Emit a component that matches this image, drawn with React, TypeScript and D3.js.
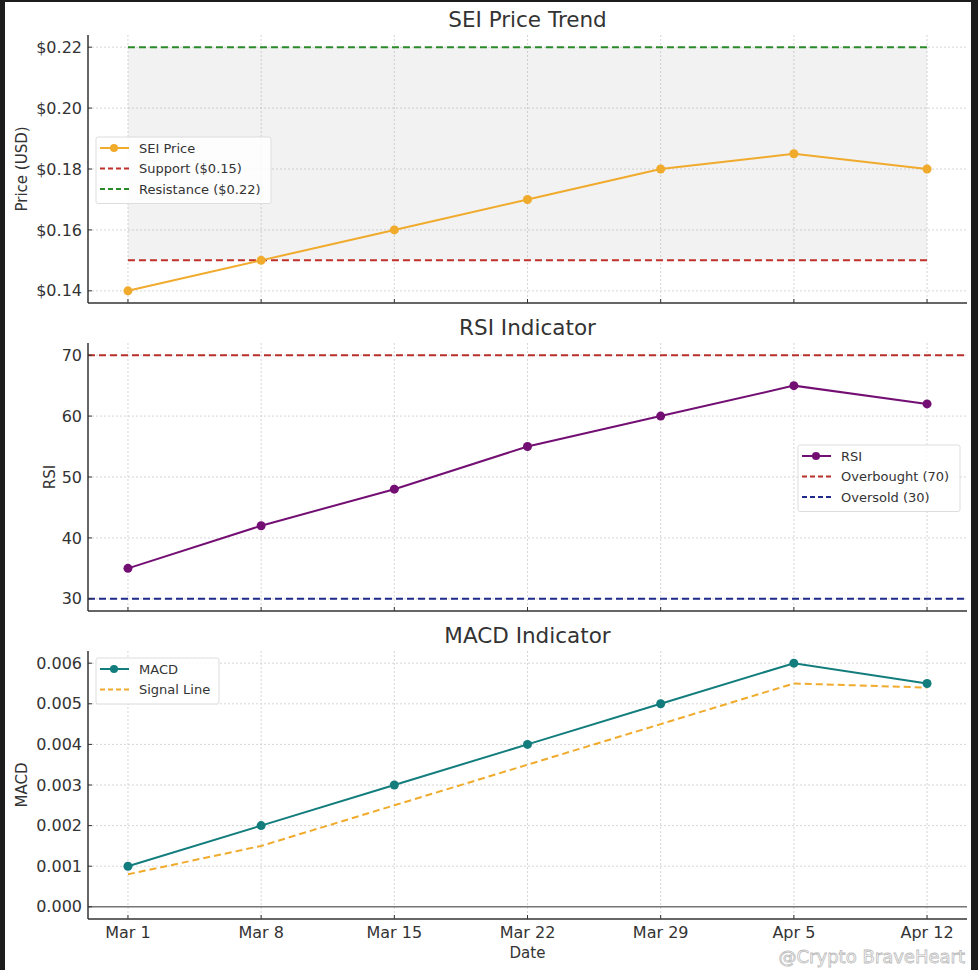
import React from "react";
import * as d3 from "d3";

const dates = ["Mar 1", "Mar 8", "Mar 15", "Mar 22", "Mar 29", "Apr 5", "Apr 12"];
const price = [0.14, 0.15, 0.16, 0.17, 0.18, 0.185, 0.18];
const rsi = [35, 42, 48, 55, 60, 65, 62];
const macd = [0.001, 0.002, 0.003, 0.004, 0.005, 0.006, 0.0055];
const signal = [0.0008, 0.0015, 0.0025, 0.0035, 0.0045, 0.0055, 0.0054];

const support = 0.15;
const resistance = 0.22;
const overbought = 70;
const oversold = 30;

const priceTicks = [0.14, 0.16, 0.18, 0.2, 0.22];
const rsiTicks = [30, 40, 50, 60, 70];
const macdTicks = [0, 0.001, 0.002, 0.003, 0.004, 0.005, 0.006];

const W = 978;
const H = 970;
const left = 88;
const right = 967;
const font = "DejaVu Sans, sans-serif";
const ink = "#333";

const x = d3.scaleLinear().domain([-0.3, 6.3]).range([left, right]);

type Entry = { label: string; color: string; dash?: string; marker?: boolean };

const Legend: React.FC<{ x0: number; y0: number; w: number; entries: Entry[] }> = ({ x0, y0, w, entries }) => (
  <g>
    <rect x={x0} y={y0} width={w} height={entries.length * 20.5 + 5} rx={2} fill="white" fillOpacity={0.85} stroke="#ddd" />
    {entries.map((e, i) => {
      const cy = y0 + 11 + i * 20.5;
      return (
        <g key={e.label}>
          <line x1={x0 + 4} x2={x0 + 33} y1={cy} y2={cy} stroke={e.color} strokeWidth={2} strokeDasharray={e.dash} />
          {e.marker && <circle cx={x0 + 18} cy={cy} r={4} fill={e.color} />}
          <text x={x0 + 43} y={cy} dy="0.35em" fontSize={13} fill={ink} fontFamily={font}>{e.label}</text>
        </g>
      );
    })}
  </g>
);

type PanelProps = {
  top: number;
  bottom: number;
  domain: [number, number];
  ticks: number[];
  fmt: (v: number) => string;
  title: string;
  ylabel: string;
  ylabelX: number;
  children: (y: d3.ScaleLinear<number, number>) => React.ReactNode;
  xLabels?: boolean;
};

const Panel: React.FC<PanelProps> = ({ top, bottom, domain, ticks, fmt, title, ylabel, ylabelX, children, xLabels }) => {
  const y = d3.scaleLinear().domain(domain).range([bottom, top]);
  return (
    <g>
      <text x={(left + right) / 2} y={top - 16} dy="0.35em" textAnchor="middle" fontSize={21.5} fill={ink} fontFamily={font}>{title}</text>
      {/* grid */}
      {dates.map((_, i) => (
        <line key={"gx" + i} x1={x(i)} x2={x(i)} y1={top} y2={bottom} stroke="#ccc" strokeWidth={0.8} strokeDasharray="2,2" />
      ))}
      {ticks.map((t) => (
        <line key={"gy" + t} x1={left} x2={right} y1={y(t)} y2={y(t)} stroke="#ccc" strokeWidth={0.8} strokeDasharray="2,2" />
      ))}
      {children(y)}
      {/* spines */}
      <line x1={left} x2={left} y1={top} y2={bottom} stroke={ink} strokeWidth={1.5} />
      <line x1={left} x2={right} y1={bottom} y2={bottom} stroke={ink} strokeWidth={1.5} />
      {ticks.map((t) => (
        <g key={"ty" + t}>
          <line x1={left} x2={left + 4} y1={y(t)} y2={y(t)} stroke={ink} strokeWidth={1} />
          <text x={left - 6} y={y(t)} dy="0.35em" textAnchor="end" fontSize={16} fill={ink} fontFamily={font}>{fmt(t)}</text>
        </g>
      ))}
      {dates.map((d, i) => (
        <g key={"tx" + i}>
          <line x1={x(i)} x2={x(i)} y1={bottom} y2={bottom - 4} stroke={ink} strokeWidth={1} />
          {xLabels && (
            <text x={x(i)} y={bottom + 13} dy="0.35em" textAnchor="middle" fontSize={16} fill={ink} fontFamily={font}>{d}</text>
          )}
        </g>
      ))}
      <text transform={`translate(${ylabelX},${(top + bottom) / 2}) rotate(-90)`} textAnchor="middle" dy="0.35em" fontSize={15} fill={ink} fontFamily={font}>{ylabel}</text>
    </g>
  );
};

const series = (vals: number[], y: d3.ScaleLinear<number, number>) =>
  d3.line<number>().x((_, i) => x(i)).y((v) => y(v))(vals) || "";

export default function App() {
  const orange = "#f0aa2c";
  return (
    <svg width={W} height={H} style={{ position: "absolute", left: 0, top: 0, background: "white" }}>
      <rect width={W} height={H} fill="white" />

      <Panel top={35} bottom={303} domain={[0.136, 0.224]} ticks={priceTicks} fmt={(v) => "$" + v.toFixed(2)}
        title="SEI Price Trend" ylabel="Price (USD)" ylabelX={22}>
        {(y) => (
          <g>
            <rect x={x(0)} width={x(6) - x(0)} y={y(resistance)} height={y(support) - y(resistance)} fill="#808080" fillOpacity={0.1} />
            <line x1={x(0)} x2={x(6)} y1={y(support)} y2={y(support)} stroke="#c0302a" strokeWidth={2} strokeDasharray="7,4" />
            <line x1={x(0)} x2={x(6)} y1={y(resistance)} y2={y(resistance)} stroke="#2a8a2a" strokeWidth={2} strokeDasharray="7,4" />
            <path d={series(price, y)} fill="none" stroke={orange} strokeWidth={2} />
            {price.map((v, i) => <circle key={i} cx={x(i)} cy={y(v)} r={4.5} fill={orange} />)}
            <Legend x0={96} y0={137} w={175} entries={[
              { label: "SEI Price", color: orange, marker: true },
              { label: "Support ($0.15)", color: "#c0302a", dash: "5,3" },
              { label: "Resistance ($0.22)", color: "#2a8a2a", dash: "5,3" },
            ]} />
          </g>
        )}
      </Panel>

      <Panel top={343} bottom={611} domain={[28, 72]} ticks={rsiTicks} fmt={(v) => String(v)}
        title="RSI Indicator" ylabel="RSI" ylabelX={50}>
        {(y) => (
          <g>
            <line x1={left} x2={right} y1={y(overbought)} y2={y(overbought)} stroke="#b8302a" strokeWidth={2} strokeDasharray="7,4" />
            <line x1={left} x2={right} y1={y(oversold)} y2={y(oversold)} stroke="#1f2a8a" strokeWidth={2} strokeDasharray="7,4" />
            <path d={series(rsi, y)} fill="none" stroke="#730f73" strokeWidth={2} />
            {rsi.map((v, i) => <circle key={i} cx={x(i)} cy={y(v)} r={4.5} fill="#730f73" />)}
            <Legend x0={798} y0={445} w={162} entries={[
              { label: "RSI", color: "#730f73", marker: true },
              { label: "Overbought (70)", color: "#b8302a", dash: "5,3" },
              { label: "Oversold (30)", color: "#1f2a8a", dash: "5,3" },
            ]} />
          </g>
        )}
      </Panel>

      <Panel top={651} bottom={919} domain={[-0.0003, 0.0063]} ticks={macdTicks} fmt={(v) => v.toFixed(3)}
        title="MACD Indicator" ylabel="MACD" ylabelX={22} xLabels>
        {(y) => (
          <g>
            <line x1={left} x2={right} y1={y(0)} y2={y(0)} stroke="#777" strokeWidth={1.5} />
            <path d={series(signal, y)} fill="none" stroke={orange} strokeWidth={2} strokeDasharray="7,4" />
            <path d={series(macd, y)} fill="none" stroke="#137d7d" strokeWidth={2} />
            {macd.map((v, i) => <circle key={i} cx={x(i)} cy={y(v)} r={4.5} fill="#137d7d" />)}
            <Legend x0={96} y0={658} w={123} entries={[
              { label: "MACD", color: "#137d7d", marker: true },
              { label: "Signal Line", color: orange, dash: "5,3" },
            ]} />
          </g>
        )}
      </Panel>

      <text x={(left + right) / 2} y={953} dy="0.35em" textAnchor="middle" fontSize={15} fill={ink} fontFamily={font}>Date</text>

      <text x={965} y={957} dy="0.35em" textAnchor="end" fontSize={18} fill="white" stroke="#bbb" strokeWidth={0.8} fontFamily={font}>@Crypto BraveHeart</text>

      {/* dark frame */}
      <rect x={0} y={0} width={5} height={H} fill="#1c1c1c" />
      <rect x={0} y={0} width={W} height={2} fill="#1c1c1c" />
      <rect x={971} y={0} width={7} height={H} fill="#1c1c1c" />
    </svg>
  );
}
